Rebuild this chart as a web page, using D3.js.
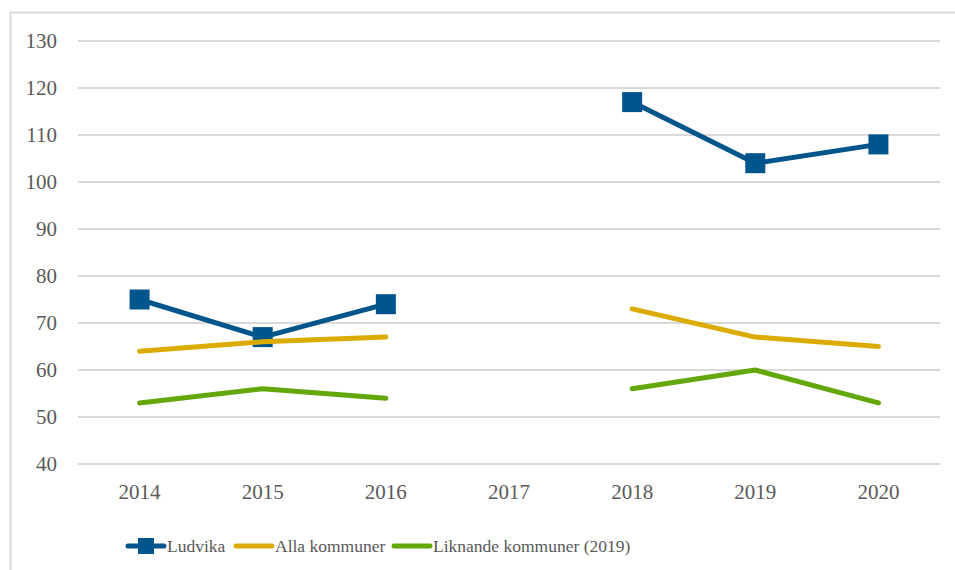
<!DOCTYPE html>
<html>
<head>
<meta charset="utf-8">
<script src="https://d3js.org/d3.v7.min.js"></script>
</head>
<body style="margin:0">
<script>
// chart data
var years = ["2014", "2015", "2016", "2017", "2018", "2019", "2020"];
var ludvika = [75, 67, 74, null, 117, 104, 108];
var allaKommuner = [64, 66, 67, null, 73, 67, 65];
var liknande = [53, 56, 54, null, 56, 60, 53];
var yTicks = [40, 50, 60, 70, 80, 90, 100, 110, 120, 130];
var seriesNames = ["Ludvika", "Alla kommuner", "Liknande kommuner (2019)"];
var colors = ["#00558c", "#dcab00", "#64a70b"];

var width = 955, height = 570;

var svg = d3.select("body").append("svg")
    .attr("width", width)
    .attr("height", height)
    .attr("font-family", "Liberation Serif");

// outer frame (left + top visible)
svg.append("path")
    .attr("d", "M10.5,570 V12.5 H955")
    .attr("fill", "none")
    .attr("stroke", "#d9d9d9")
    .attr("stroke-width", 2);

var x = d3.scaleBand().domain(years).range([78, 940]);
var y = d3.scaleLinear().domain([40, 130]).range([464, 41]);

// gridlines
svg.selectAll("line.grid")
    .data(yTicks)
    .enter().append("line")
    .attr("class", "grid")
    .attr("x1", 78).attr("x2", 940)
    .attr("y1", function(d) { return y(d); })
    .attr("y2", function(d) { return y(d); })
    .attr("stroke", "#d9d9d9")
    .attr("stroke-width", 2);

// y labels
svg.selectAll("text.ylab")
    .data(yTicks)
    .enter().append("text")
    .attr("class", "ylab")
    .attr("x", 57)
    .attr("y", function(d) { return y(d) + 7; })
    .attr("text-anchor", "end")
    .attr("fill", "#595959")
    .attr("font-size", 21)
    .text(function(d) { return d; });

// x labels
svg.selectAll("text.xlab")
    .data(years)
    .enter().append("text")
    .attr("class", "xlab")
    .attr("x", function(d) { return x(d) + x.bandwidth() / 2; })
    .attr("y", 499)
    .attr("text-anchor", "middle")
    .attr("fill", "#595959")
    .attr("font-size", 21)
    .text(function(d) { return d; });

var line = d3.line()
    .defined(function(d) { return d != null; })
    .x(function(d, i) { return x(years[i]) + x.bandwidth() / 2; })
    .y(function(d) { return y(d); });

var allSeries = [ludvika, allaKommuner, liknande];

// drawing order: gold line sits over the Ludvika marker at 2015
[liknande, ludvika, allaKommuner].forEach(function(s) {
    var idx = allSeries.indexOf(s);
    svg.append("path")
        .datum(s)
        .attr("d", line)
        .attr("fill", "none")
        .attr("stroke", colors[idx])
        .attr("stroke-width", 5)
        .attr("stroke-linecap", "round")
        .attr("stroke-linejoin", "round");
    if (idx === 0) {
        svg.selectAll("rect.mark")
            .data(s.map(function(v, i) { return { v: v, i: i }; })
                .filter(function(d) { return d.v != null; }))
            .enter().append("rect")
            .attr("class", "mark")
            .attr("x", function(d) { return x(years[d.i]) + x.bandwidth() / 2 - 10; })
            .attr("y", function(d) { return y(d.v) - 10; })
            .attr("width", 20)
            .attr("height", 20)
            .attr("fill", colors[0]);
    }
});

// legend
var legendX = [128, 236, 394];
var legend = svg.selectAll("g.legend")
    .data(seriesNames)
    .enter().append("g")
    .attr("class", "legend")
    .attr("transform", function(d, i) { return "translate(" + legendX[i] + ",546)"; });

legend.append("line")
    .attr("x1", 0).attr("x2", 36)
    .attr("stroke", function(d, i) { return colors[i]; })
    .attr("stroke-width", 5)
    .attr("stroke-linecap", "round");

legend.filter(function(d, i) { return i === 0; })
    .append("rect")
    .attr("x", 10).attr("y", -8)
    .attr("width", 16).attr("height", 16)
    .attr("fill", colors[0]);

legend.append("text")
    .attr("x", 39)
    .attr("y", 6)
    .attr("fill", "#595959")
    .attr("font-size", 17.5)
    .text(function(d) { return d; });
</script>
</body>
</html>
